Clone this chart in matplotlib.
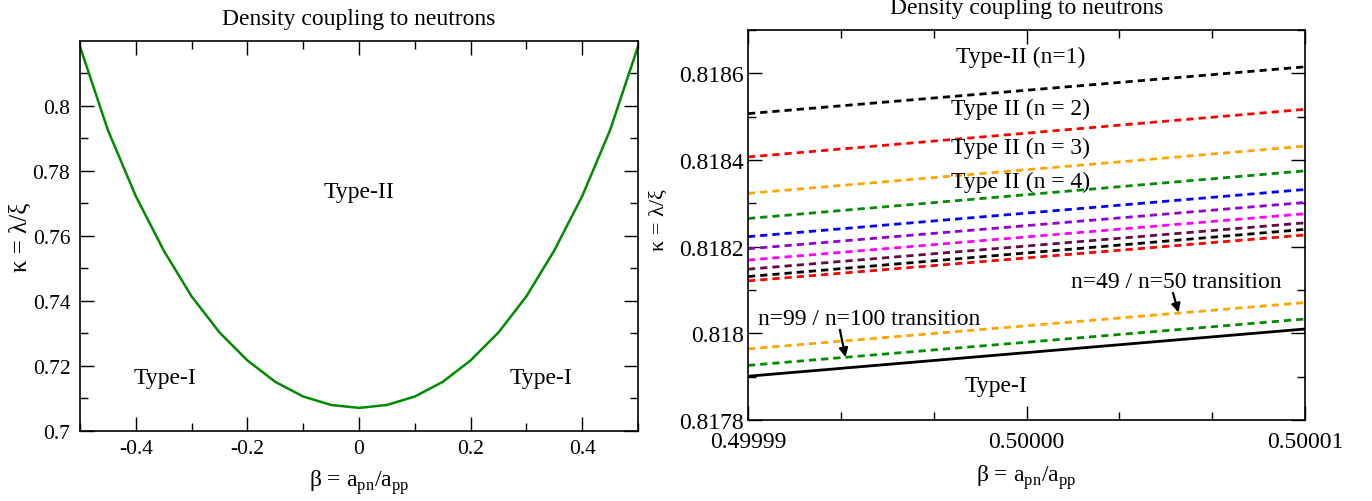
import matplotlib
matplotlib.use("Agg")
import matplotlib.pyplot as plt
from matplotlib.ticker import MultipleLocator, FixedLocator, AutoMinorLocator, FuncFormatter, FormatStrFormatter

plt.rcParams["font.family"] = ["Liberation Serif", "DejaVu Serif"]
plt.rcParams["mathtext.fontset"] = "custom"
plt.rcParams["mathtext.rm"] = "Liberation Serif"

# --- left panel: boundary kappa(beta) ---------------------------------------
beta = [-0.5, -0.45, -0.4, -0.35, -0.3, -0.25, -0.2, -0.15, -0.1, -0.05, 0.0,
        0.05, 0.1, 0.15, 0.2, 0.25, 0.3, 0.35, 0.4, 0.45, 0.5]
kappa = [0.8182, 0.7925, 0.7722, 0.7555, 0.7414, 0.7303, 0.7217, 0.7151, 0.7106, 0.7080, 0.7071,
         0.7080, 0.7106, 0.7151, 0.7217, 0.7303, 0.7414, 0.7555, 0.7722, 0.7925, 0.8182]

# --- right panel: zoom around beta = 0.5 ------------------------------------
beta_zoom = [0.49999, 0.50001]
k_n1 = [0.818507, 0.818615]
k_n2 = [0.818407, 0.818517]
k_n3 = [0.818323, 0.818432]
k_n4 = [0.818265, 0.818375]
k_n5 = [0.818223, 0.818332]
k_n6 = [0.818195, 0.818302]
k_n7 = [0.818169, 0.818276]
k_n8 = [0.818148, 0.818255]
k_n9 = [0.818131, 0.818240]
k_n10 = [0.818121, 0.818227]
k_n50 = [0.817964, 0.818071]
k_n100 = [0.817926, 0.818033]
k_type1 = [0.817901, 0.818010]

# xmgrace palette
dashed_lines = [
    (k_n1, "black"), (k_n2, "red"), (k_n3, "#ffa500"), (k_n4, "#008b00"),
    (k_n5, "blue"), (k_n6, "#9400d3"), (k_n7, "magenta"), (k_n8, "#670748"),
    (k_n9, "black"), (k_n10, "red"), (k_n50, "#ffa500"), (k_n100, "#008b00"),
]

FS = 17
W, H = 1372, 502
fig = plt.figure(figsize=(W / 100, H / 100), dpi=100)
axL = fig.add_axes([80 / W, 1 - 432 / H, 558 / W, 390 / H])
axR = fig.add_axes([748 / W, 1 - 421 / H, 557 / W, 390 / H])


def style(ax, fs, pad_x, pad_y):
    for s in ax.spines.values():
        s.set_linewidth(1.2)
    ax.tick_params(which="both", direction="in", top=True, right=True, width=1.0,
                   labelsize=fs)
    ax.tick_params(which="major", length=10)
    ax.tick_params(which="minor", length=6)
    ax.tick_params(axis="x", pad=pad_x)
    ax.tick_params(axis="y", pad=pad_y)


# left
axL.plot(beta, kappa, color="#008b00", lw=1.8)
axL.set_xlim(-0.5, 0.5)
axL.set_ylim(0.7, 0.8199)
axL.xaxis.set_major_locator(MultipleLocator(0.2))
axL.xaxis.set_minor_locator(MultipleLocator(0.1))
axL.yaxis.set_major_locator(MultipleLocator(0.02))
axL.yaxis.set_minor_locator(MultipleLocator(0.01))
g = FuncFormatter(lambda v, p: "%g" % round(v, 6))
axL.xaxis.set_major_formatter(g)
axL.yaxis.set_major_formatter(g)
style(axL, 15.5, 6, 7)
axL.text(0.0, 0.7735, "Type-II", fontsize=FS, ha="center", va="center")
axL.text(-0.348, 0.7166, "Type-I", fontsize=FS, ha="center", va="center")
axL.text(0.327, 0.7166, "Type-I", fontsize=FS, ha="center", va="center")
axL.text(0.5, 1 + 22 / 390, "Density coupling to neutrons", fontsize=FS,
         ha="center", va="center", transform=axL.transAxes)

# right
for vals, c in dashed_lines:
    axR.plot(beta_zoom, vals, color=c, lw=2.0, dashes=(2.6, 1.8))
axR.plot(beta_zoom, k_type1, color="black", lw=2.0)
axR.set_xlim(0.49999, 0.50001)
axR.set_ylim(0.8178, 0.8187)
axR.xaxis.set_major_locator(FixedLocator([0.49999, 0.50000, 0.50001]))
axR.xaxis.set_minor_locator(AutoMinorLocator(3))
axR.xaxis.set_major_formatter(FormatStrFormatter("%.5f"))
axR.yaxis.set_major_locator(MultipleLocator(0.0002))
axR.yaxis.set_minor_locator(MultipleLocator(0.0001))
axR.yaxis.set_major_formatter(g)
style(axR, 17, 8, 3)

xr = lambda f: 0.49999 + f * 2e-5
axR.text(xr(0.49), 0.81864, "Type-II (n=1)", fontsize=FS, ha="center", va="center")
axR.text(xr(0.49), 0.81852, "Type II (n = 2)", fontsize=FS, ha="center", va="center")
axR.text(xr(0.49), 0.81843, "Type II (n = 3)", fontsize=FS, ha="center", va="center")
axR.text(xr(0.49), 0.81835, "Type II (n = 4)", fontsize=FS, ha="center", va="center")
axR.text(xr(0.445), 0.81788, "Type-I", fontsize=FS, ha="center", va="center")
axR.text(xr(0.58), 0.81812, "n=49 / n=50 transition", fontsize=FS, ha="left", va="center")
axR.text(xr(0.018), 0.818035, "n=99 / n=100 transition", fontsize=FS, ha="left", va="center")
arrow = dict(arrowstyle="-|>", color="black", lw=1.6, mutation_scale=13,
             shrinkA=0, shrinkB=0)
axR.annotate("", xy=(xr(0.773), 0.818048), xytext=(xr(0.763), 0.818093), arrowprops=arrow)
axR.annotate("", xy=(xr(0.175), 0.817945), xytext=(xr(0.165), 0.818008), arrowprops=arrow)
axR.text(0.5, 1 + 22 / 390, "Density coupling to neutrons", fontsize=FS,
         ha="center", va="center", transform=axR.transAxes)

for ax, ylab_fs, ylab_x, ylab_y, xlab_y in [(axL, 18, -0.107, 0.5, -0.141),
                                            (axR, 16, -0.16, 0.515, -0.156)]:
    ax.set_xlabel(r"β = a$_{\rm pn}$/a$_{\rm pp}$", fontsize=FS)
    ax.set_ylabel("κ = λ/ξ", fontsize=ylab_fs)
    ax.xaxis.set_label_coords(0.5, xlab_y)
    ax.xaxis.label.set_va("baseline")
    ax.yaxis.set_label_coords(ylab_x, ylab_y)
    ax.yaxis.label.set_va("center")

fig.savefig("out.png", dpi=100)
